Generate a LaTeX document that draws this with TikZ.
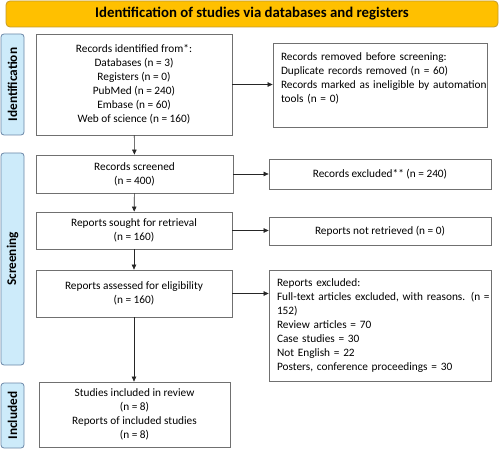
\documentclass[tikz,border=0pt]{standalone}
\usepackage{fontspec}
\setmainfont{Carlito}
\usetikzlibrary{arrows.meta}

\definecolor{titlefill}{HTML}{FFC000}
\definecolor{titleline}{HTML}{C39A2A}
\definecolor{stagefill}{HTML}{CDEBFA}
\definecolor{stageline}{HTML}{6A86A6}
\definecolor{boxline}{HTML}{707070}

\tikzset{every picture/.style={line width=0.8pt}}
\tikzset{
  flowbox/.style={draw=boxline, fill=white, inner sep=0pt, align=center,
    font=\fontsize{11.3}{14}\selectfont},
  notebox/.style={flowbox, align=left, inner xsep=8pt},
  stagebox/.style={draw=stageline, fill=stagefill, rounded corners=3pt, inner sep=0pt,
    font=\bfseries\fontsize{13.3}{15}\selectfont},
  flowarrow/.style={draw=black!85, line width=0.6pt, -{Triangle[length=5pt,width=4.5pt]}}
}

\begin{document}
\begin{tikzpicture}[x=1pt,y=1pt,yscale=-1,xscale=1]
  \useasboundingbox (0,0) rectangle (500,449);
  % Title bar
  \node (title) [draw=titleline, fill=titlefill, rounded corners=4pt, minimum width=492pt, minimum height=26pt,
    inner sep=0pt, font=\bfseries\fontsize{14.8}{16}\selectfont] at (252,14)
    {Identification of studies via databases and registers};
  % Stage labels
  \node (idlab) [stagebox, minimum width=101pt, minimum height=23pt, rotate=90] at (12.5,84.5) {Identification};
  \node (scrlab) [stagebox, minimum width=212pt, minimum height=23pt, rotate=90] at (12.5,259) {Screening};
  \node (inclab) [stagebox, minimum width=65pt, minimum height=23pt, rotate=90] at (12.5,415.5) {Included};
  % Left column
  \node (ident) [flowbox, minimum width=196pt, minimum height=101pt] at (134,84.5)
    {Records identified from*:\\ Databases (n = 3)\\ Registers (n = 0)\\ PubMed (n = 240)\\ Embase (n = 60)\\ Web of science (n = 160)};
  \node (screened) [flowbox, minimum width=197pt, minimum height=38pt] at (134.5,174)
    {Records screened\\ (n = 400)};
  \node (sought) [flowbox, minimum width=196pt, minimum height=37pt] at (134,230.5)
    {Reports sought for retrieval\\ (n = 160)};
  \node (assessed) [flowbox, minimum width=196pt, minimum height=47pt] at (134,293.5)
    {Reports assessed for eligibility\\ (n = 160)};
  \node (included) [flowbox, minimum width=191pt, minimum height=65pt] at (134.5,414.5)
    {Studies included in review\\ (n = 8)\\ Reports of included studies\\ (n = 8)};
  % Right column
  \node (removed) [notebox, text width=198pt, minimum height=84pt] at (380,85)
    {Records removed before screening:\\ Duplicate records removed (n = 60)\\ \mbox{Records marked as ineligible by automation}\\ tools (n = 0)\\ \mbox{}};
  \node (excluded) [flowbox, minimum width=222pt, minimum height=30pt] at (380,174)
    {Records excluded** (n = 240)};
  \node (notretr) [flowbox, minimum width=222pt, minimum height=28pt] at (380,231)
    {Reports not retrieved (n = 0)};
  \node (repexcl) [notebox, inner xsep=8pt, text width=206pt, minimum height=111pt] at (380,325.5)
    {Reports excluded:\\ \mbox{Full-text articles excluded, with reasons. (n =}\\ 152)\\ Review articles = 70\\ Case studies = 30\\ Not English = 22\\ Posters, conference proceedings = 30};
  % Arrows
  \draw [flowarrow] (ident) -- (screened);
  \draw [flowarrow] (screened) -- (sought);
  \draw [flowarrow] (sought) -- (assessed);
  \draw [flowarrow] (assessed.south) -- (assessed.south |- included.north);
  \draw [flowarrow] (ident.east) -- (ident.east -| removed.west);
  \draw [flowarrow] (screened.east) -- (excluded.west);
  \draw [flowarrow] (sought.east) -- (sought.east -| notretr.west);
  \draw [flowarrow] (assessed.east) -- (assessed.east -| repexcl.west);
\end{tikzpicture}
\end{document}
